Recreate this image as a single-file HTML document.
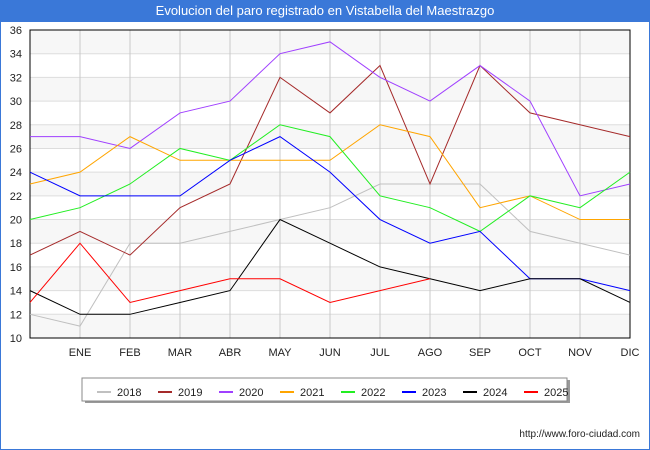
<!DOCTYPE html>
<html><head><meta charset="utf-8"><style>
body{margin:0;width:650px;height:450px;background:#fff;font-family:"Liberation Sans","DejaVu Sans",sans-serif;overflow:hidden}
#title{position:absolute;left:0;top:0;width:650px;height:22px;background:#3a78d8;color:#fff;font-size:13px;text-align:center;line-height:22px}
#frame{position:absolute;left:0;top:0;width:648px;height:448px;border:1px solid #3a78d8}
</style></head><body>
<div id="frame"></div>
<div id="title">Evolucion del paro registrado en Vistabella del Maestrazgo</div>
<svg id="c" width="650" height="450" style="position:absolute;left:0;top:0"></svg>
<script>
const months=["","ENE","FEB","MAR","ABR","MAY","JUN","JUL","AGO","SEP","OCT","NOV","DIC"];
const yTicks=[10,12,14,16,18,20,22,24,26,28,30,32,34,36];
const years=["2018","2019","2020","2021","2022","2023","2024","2025"];
const colors=["#c0c0c0","#a52a2a","#a040ff","#ffa500","#22ee22","#0000ff","#000000","#ff0000"];
const s2018=[12,11,18,18,19,20,21,23,23,23,19,18,17];
const s2019=[17,19,17,21,23,32,29,33,23,33,29,28,27];
const s2020=[27,27,26,29,30,34,35,32,30,33,30,22,23];
const s2021=[23,24,27,25,25,25,25,28,27,21,22,20,20];
const s2022=[20,21,23,26,25,28,27,22,21,19,22,21,24];
const s2023=[24,22,22,22,25,27,24,20,18,19,15,15,14];
const s2024=[14,12,12,13,14,20,18,16,15,14,15,15,13];
const s2025=[13,18,13,14,15,15,13,14,15];
const series=[s2018,s2019,s2020,s2021,s2022,s2023,s2024,s2025];
const L=30,R=630,T=30,B=338,ymin=10,ymax=36;
const X=i=>L+i*(R-L)/12;
const Y=v=>B-(v-ymin)*(B-T)/(ymax-ymin);
const svg=document.getElementById('c');
const NS="http://www.w3.org/2000/svg";
function mk(t,a,p){const e=document.createElementNS(NS,t);for(const k in a)e.setAttribute(k,a[k]);(p||svg).appendChild(e);return e;}
// bands
for(let i=0;i<yTicks.length-1;i++){if(i%2===0){const b=mk('rect',{x:L,y:Y(yTicks[i+1]),width:R-L,height:Y(yTicks[i])-Y(yTicks[i+1]),fill:'#f7f7f7'});

}}
yTicks.forEach(v=>{const g=mk('line',{x1:L,x2:R,y1:Y(v),y2:Y(v),stroke:'#dddddd'});


const t=mk('text',{x:L-8,y:Y(v)+4,'text-anchor':'end','font-size':11,fill:'#222'});t.textContent=v;

});
months.forEach((m,i)=>{const g=mk('line',{x1:X(i),x2:X(i),y1:T,y2:B,stroke:'#c8c8c8'});


if(m){const t=mk('text',{x:X(i),y:B+18,'text-anchor':'middle','font-size':11,fill:'#222'});t.textContent=m;

}});
const fr=mk('rect',{x:L,y:T,width:R-L,height:B-T,fill:'none',stroke:'#000'});


series.forEach((s,k)=>{const p=mk('polyline',{points:s.map((v,i)=>X(i)+','+Y(v)).join(' '),fill:'none',stroke:colors[k],'stroke-width':1});

});
// legend
const sh=mk('rect',{x:85,y:380,width:485,height:23,fill:'#999'});


const lg=mk('rect',{x:82,y:378,width:485,height:23,fill:'#fff',stroke:'#888'});


years.forEach((y,k)=>{const x0=97+k*61;
const l=mk('line',{x1:x0,x2:x0+14,y1:392,y2:392,stroke:colors[k],'stroke-width':2});


const t=mk('text',{x:x0+20,y:396,'font-size':11,fill:'#222'});t.textContent=y;

});
const u=mk('text',{x:640,y:437,'text-anchor':'end','font-size':10,fill:'#222'});u.textContent='http://www.foro-ciudad.com';


</script>
</body></html>
